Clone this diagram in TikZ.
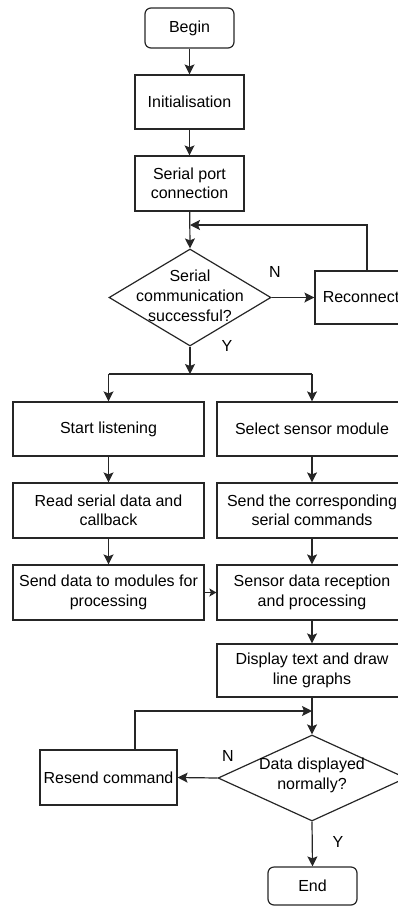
\documentclass[tikz,border=0pt]{standalone}
\usepackage{fontspec}
\setmainfont{Liberation Sans}
\usetikzlibrary{arrows.meta,shapes.geometric}
\tikzset{
  box/.style={draw=black!85, line width=1.2pt, inner sep=0pt, align=center, font=\fontsize{16}{19.5}\selectfont},
  term/.style={box, rounded corners=6pt},
  dia/.style={draw=black!85, line width=1.2pt, shape=diamond, inner sep=0pt, aspect=1.6},
  dtext/.style={align=center, font=\fontsize{16}{20}\selectfont, inner sep=0pt},
  lab/.style={font=\fontsize{16}{19}\selectfont, inner sep=0pt},
  conn/.style={draw=black!85, line width=1.2pt, -{Stealth[length=10pt,width=10pt,inset=2pt]}},
  line/.style={draw=black!85, line width=1.2pt},
}
\begin{document}
\begin{tikzpicture}[x=1pt,y=-1pt]
\useasboundingbox (0,0) rectangle (398,907);
\clip (0,0) rectangle (398,907);
% nodes
\node[term, minimum width=89pt, minimum height=40pt] (begin) at (189.5,28) {Begin};
\node[box, minimum width=109pt, minimum height=54pt] (init) at (189.5,102) {Initialisation};
\node[box, minimum width=109pt, minimum height=55pt] (serial) at (189.5,183.5) {Serial port\\connection};
\node[dia, minimum width=162pt, minimum height=97pt] (d1) at (190,297.5) {};
\node[dtext] (d1t) at (190,296) {Serial\\communication\\successful?};
\node[box, minimum width=92pt, minimum height=53pt] (recon) at (361,297.5) {Reconnect};
\node[box, minimum width=191pt, minimum height=54pt] (start) at (108.5,429) {Start listening};
\node[box, minimum width=190pt, minimum height=54pt] (select) at (312,429) {Select sensor module};
\node[box, minimum width=191pt, minimum height=55pt] (read) at (108.5,510.5) {Read serial data and\\callback};
\node[box, minimum width=190pt, minimum height=55pt] (sendcmd) at (312,510.5) {Send the corresponding\\serial commands};
\node[box, minimum width=191pt, minimum height=55pt] (senddata) at (108.5,592.5) {Send data to modules for\\processing};
\node[box, minimum width=190pt, minimum height=55pt] (sensor) at (312,592.5) {Sensor data reception\\and processing};
\node[box, minimum width=190pt, minimum height=53pt] (display) at (312,670.5) {Display text and draw\\line graphs};
\node[dia, minimum width=188pt, minimum height=86pt] (d2) at (312,778) {};
\node[dtext] (d2t) at (312,775) {Data displayed\\normally?};
\node[box, minimum width=137pt, minimum height=55pt] (resend) at (108.5,777.5) {Resend command};
\node[term, minimum width=89pt, minimum height=38pt] (end) at (312.5,886) {End};
% labels
\node[lab] (n1) at (275,272) {N};
\node[lab] (y1) at (227,346) {Y};
\node[lab] (n2) at (228,756) {N};
\node[lab] (y2) at (338,842) {Y};
% coordinates
\coordinate (fb1) at (190,225);
\coordinate (fb1r) at (367,225);
\coordinate (split) at (190,374);
\coordinate (splitL) at (108.5,374);
\coordinate (splitR) at (312,374);
\coordinate (fb2) at (312,711);
\coordinate (fb2l) at (135,711);
% connectors
\draw[conn] (begin) -- (init);
\draw[conn] (init) -- (serial);
\draw[conn] (serial) -- (d1.north);
\draw[conn] ([xshift=6pt]recon.north) -- (fb1r) -- (fb1);
\draw[conn] (d1.east) -- (recon.west);
\draw[conn] (d1.south) -- (split);
\draw[line] (splitL) -- (splitR);
\draw[conn] (splitL) -- (start.north);
\draw[conn] (splitR) -- (select.north);
\draw[conn] (start) -- (read);
\draw[conn] (read) -- (senddata);
\draw[conn] (select) -- (sendcmd);
\draw[conn] (sendcmd) -- (sensor);
\draw[draw=black!85, line width=1.2pt, -{Stealth[length=7pt,width=8pt,inset=1.5pt]}] (senddata.east) -- (sensor.west);
\draw[conn] (sensor) -- (display);
\draw[conn] (display) -- (d2.north);
\draw[conn] (d2.west) -- (resend.east);
\draw[conn] ([xshift=26.5pt]resend.north) -- (fb2l) -- (fb2);
\draw[conn] (d2.south) -- (end.north);
\end{tikzpicture}
\end{document}
